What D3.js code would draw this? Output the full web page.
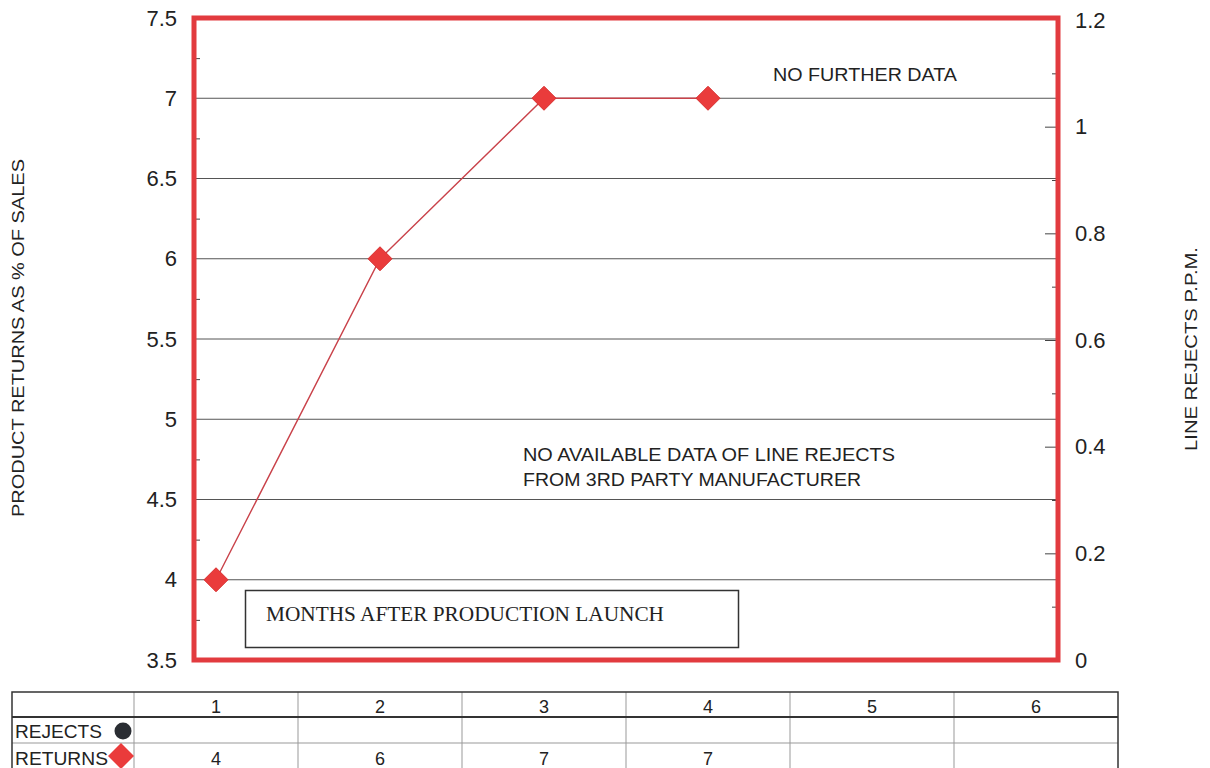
<!DOCTYPE html>
<html><head><meta charset="utf-8">
<script src="https://cdn.jsdelivr.net/npm/d3@7"></script>
<style>
body{margin:0;background:#fff;}
svg{display:block;font-family:"Liberation Sans",Arial,sans-serif;}
</style></head>
<body><svg id="c" width="1210" height="768"></svg>
<script>
const months = [1, 2, 3, 4, 5, 6];
const returnsValues = [4, 6, 7, 7, null, null];
const rejectsValues = [null, null, null, null, null, null];
const leftTicks = [3.5, 4, 4.5, 5, 5.5, 6, 6.5, 7, 7.5];
const leftMinorTicks = [3.75, 4.25, 4.75, 5.25, 5.75, 6.25, 6.75, 7.25];
const rightTicks = [0, 0.2, 0.4, 0.6, 0.8, 1, 1.2];
const rightMinorTicks = [0.1, 0.3, 0.5, 0.7, 0.9, 1.1];
const leftTitle = "PRODUCT RETURNS AS % OF SALES";
const rightTitle = "LINE REJECTS P.P.M.";
const boxLabel = "MONTHS AFTER PRODUCTION LAUNCH";
const noteTop = "NO FURTHER DATA";
const noteMid = ["NO AVAILABLE DATA OF LINE REJECTS", "FROM 3RD PARTY MANUFACTURER"];
const rowLabels = ["REJECTS", "RETURNS"];

const svg = d3.select("#c");
const P = {l:194, r:1058, t:18, b:660};
const yL = d3.scaleLinear().domain([3.5, 7.5]).range([P.b, P.t]);
const yR = d3.scaleLinear().domain([0, 1.2]).range([P.b, P.t + 2]);
const x = d3.scaleLinear().domain([1, 6]).range([216, 1036]);
const red = "#e23b3f";
const ink = "#222";

// gridlines
svg.append("g").selectAll("line").data(leftTicks.filter(v => v > 3.5 && v < 7.5)).join("line")
  .attr("x1", P.l).attr("x2", P.r).attr("y1", d => yL(d)).attr("y2", d => yL(d))
  .attr("stroke", "#555").attr("stroke-width", 1);

// left minor ticks (inside)
svg.append("g").attr("transform", `translate(${P.l},0)`)
  .call(d3.axisRight(yL).tickValues(leftMinorTicks).tickSize(6).tickFormat(""))
  .call(g => g.select(".domain").remove())
  .selectAll("line").attr("stroke", "#444");

// left labels
svg.append("g").attr("transform", `translate(${P.l},0)`)
  .call(d3.axisLeft(yL).tickValues(leftTicks).tickSize(0).tickPadding(17).tickFormat(d3.format("")))
  .call(g => g.select(".domain").remove())
  .selectAll("text").attr("font-size", 22).attr("fill", ink)
  .attr("font-family", "Liberation Sans, Arial, sans-serif");

// right inner ticks
svg.append("g").attr("transform", `translate(${P.r},0)`)
  .call(d3.axisLeft(yR).tickValues(rightTicks.filter(v => v > 0 && v < 1.2)).tickSize(13).tickFormat(""))
  .call(g => g.select(".domain").remove())
  .selectAll("line").attr("stroke", "#444");
svg.append("g").attr("transform", `translate(${P.r},0)`)
  .call(d3.axisLeft(yR).tickValues(rightMinorTicks).tickSize(6).tickFormat(""))
  .call(g => g.select(".domain").remove())
  .selectAll("line").attr("stroke", "#444");
// right labels
svg.append("g").attr("transform", `translate(${P.r},0)`)
  .call(d3.axisRight(yR).tickValues(rightTicks).tickSize(0).tickPadding(17).tickFormat(d3.format("")))
  .call(g => g.select(".domain").remove())
  .selectAll("text").attr("font-size", 22).attr("fill", ink)
  .attr("font-family", "Liberation Sans, Arial, sans-serif");

// plot border
svg.append("rect").attr("x", P.l).attr("y", P.t).attr("width", P.r - P.l).attr("height", P.b - P.t)
  .attr("fill", "none").attr("stroke", red).attr("stroke-width", 5);

// axis titles
svg.append("text").attr("transform", `translate(24,338) rotate(-90)`)
  .attr("text-anchor", "middle").attr("font-size", 17).attr("fill", ink)
  .attr("textLength", 358).attr("lengthAdjust", "spacingAndGlyphs").text(leftTitle);
svg.append("text").attr("transform", `translate(1197,349) rotate(-90)`)
  .attr("text-anchor", "middle").attr("font-size", 17).attr("fill", ink)
  .attr("textLength", 204).attr("lengthAdjust", "spacingAndGlyphs").text(rightTitle);

// notes
svg.append("text").attr("x", 773).attr("y", 81).attr("font-size", 17.5).attr("fill", ink)
  .attr("textLength", 184).attr("lengthAdjust", "spacingAndGlyphs").text(noteTop);
const noteW = [372, 338];
svg.append("g").selectAll("text").data(noteMid).join("text")
  .attr("x", 523).attr("y", (d, i) => 461 + i * 25).attr("font-size", 17.5).attr("fill", ink)
  .attr("textLength", (d, i) => noteW[i]).attr("lengthAdjust", "spacingAndGlyphs").text(d => d);

// box label
svg.append("rect").attr("x", 245.5).attr("y", 590.5).attr("width", 493).attr("height", 57)
  .attr("fill", "#fff").attr("stroke", "#333").attr("stroke-width", 1.5);
svg.append("text").attr("x", 266).attr("y", 621).attr("font-size", 20)
  .attr("font-family", "Liberation Serif, Times New Roman, serif").attr("fill", ink)
  .attr("textLength", 398).attr("lengthAdjust", "spacingAndGlyphs").text(boxLabel);

// returns line
const pts = months.map((m, i) => ({m, v: returnsValues[i]})).filter(d => d.v != null);
svg.append("path").datum(pts)
  .attr("d", d3.line().x(d => x(d.m)).y(d => yL(d.v)))
  .attr("fill", "none").attr("stroke", "#c9424a").attr("stroke-width", 1.4);
svg.append("g").selectAll("path").data(pts).join("path")
  .attr("transform", d => `translate(${x(d.m)},${yL(d.v)})`)
  .attr("d", "M0,-12L12,0L0,12L-12,0Z").attr("fill", "#ea3b3b").attr("stroke", "#d83030").attr("stroke-width", 1);

// data table
const T = {l:12, r:1118, t:692, r1:717, r2:743, b:768};
const colW = x(2) - x(1);
const tg = svg.append("g");
tg.selectAll("line.v").data(months).join("line")
  .attr("x1", d => x(d) - colW/2).attr("x2", d => x(d) - colW/2)
  .attr("y1", T.t).attr("y2", T.b).attr("stroke", "#999").attr("stroke-width", 1);
tg.append("line").attr("x1", T.l).attr("x2", T.r).attr("y1", T.r1).attr("y2", T.r1).attr("stroke", "#333").attr("stroke-width", 2);
tg.append("line").attr("x1", T.l).attr("x2", T.r).attr("y1", T.r2).attr("y2", T.r2).attr("stroke", "#999").attr("stroke-width", 1);
tg.append("rect").attr("x", T.l).attr("y", T.t).attr("width", T.r - T.l).attr("height", T.b - T.t + 4)
  .attr("fill", "none").attr("stroke", "#333").attr("stroke-width", 1.5);
tg.selectAll("text.h").data(months).join("text")
  .attr("x", d => x(d)).attr("y", 713).attr("text-anchor", "middle").attr("font-size", 18).attr("fill", ink).text(d => d);
tg.selectAll("text.r").data(months.map((m, i) => ({m, v: returnsValues[i]})).filter(d => d.v != null)).join("text")
  .attr("x", d => x(d.m)).attr("y", 765).attr("text-anchor", "middle").attr("font-size", 18).attr("fill", ink).text(d => d.v);
const rlW = [87, 93];
tg.selectAll("text.rl").data(rowLabels).join("text")
  .attr("x", 15).attr("y", (d, i) => i ? 765 : 738).attr("font-size", 18).attr("fill", ink)
  .attr("textLength", (d, i) => rlW[i]).attr("lengthAdjust", "spacingAndGlyphs").text(d => d);
tg.append("circle").attr("cx", 123).attr("cy", 731).attr("r", 8.5).attr("fill", "#2a2d33");
tg.append("path").attr("transform", "translate(121,756)").attr("d", "M0,-13L13,0L0,13L-13,0Z").attr("fill", "#ea3b3b");
</script></body></html>
